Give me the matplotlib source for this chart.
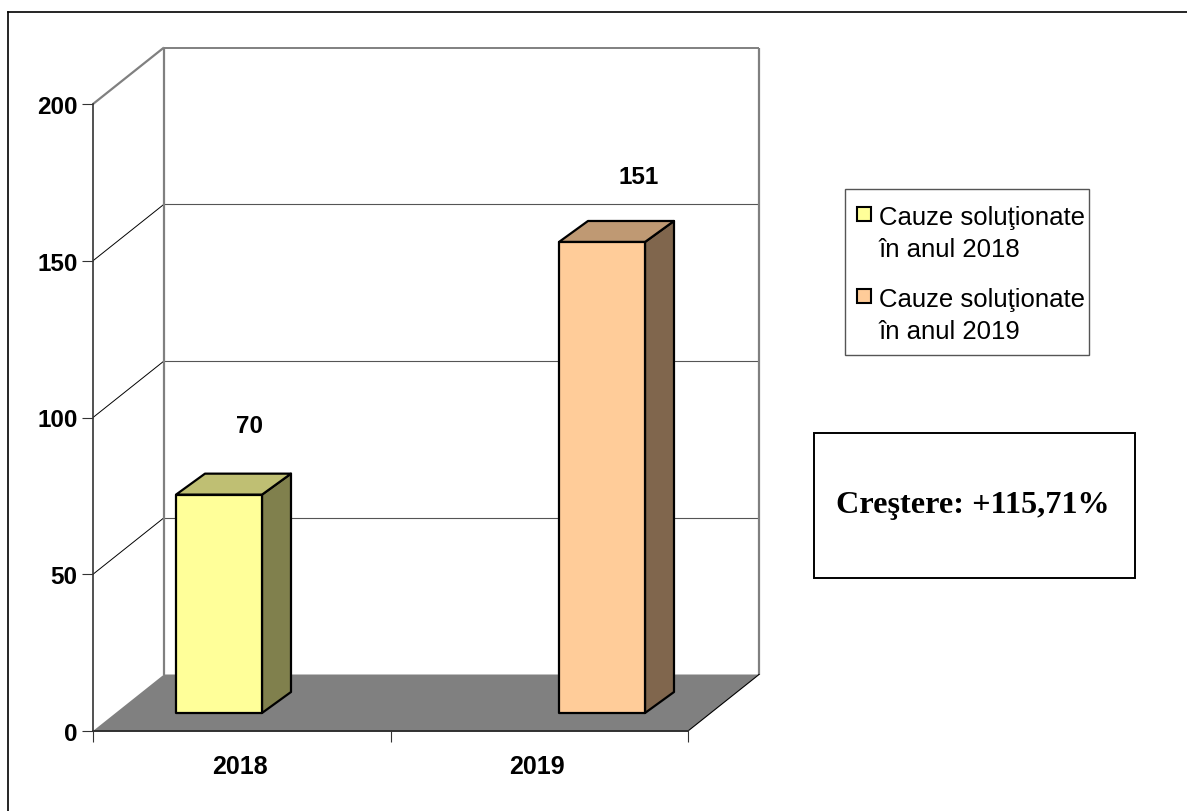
import matplotlib
matplotlib.use('Agg')
import matplotlib.pyplot as plt
from matplotlib.patches import Polygon, Rectangle

years = ['2018', '2019']
values = [70, 151]
y_ticks = [0, 50, 100, 150, 200]
bar_x = [0.4235, 1.7109]
front_colors = ['#FFFF99', '#FFCC99']
top_colors = ['#BFBF73', '#BF9973']
side_colors = ['#80804D', '#80664D']
legend_labels = ['Cauze soluţionate\nîn anul 2018', 'Cauze soluţionate\nîn anul 2019']
note = 'Creştere: +115,71%'

W, H = 1187, 812
GRAY = '#808080'


def fx(px):
    return px / W


def fy(py):
    return 1 - py / H


fig = plt.figure(figsize=(W / 100, H / 100), dpi=100)
plt.rcParams['font.family'] = ['Liberation Sans', 'DejaVu Sans']

# front plane of the 3d box is the real axes
x0, x1, y0, y200 = 93, 688, 732, 105
ax = fig.add_axes([fx(x0), fy(y0), fx(x1 - x0), (y0 - y200) / H])
ax.set_xlim(0, 2)
ax.set_ylim(0, 200)
ax.patch.set_alpha(0)
for s in ['top', 'right']:
    ax.spines[s].set_visible(False)
for s in ['left', 'bottom']:
    ax.spines[s].set_color('#333333')
    ax.spines[s].set_linewidth(1.2)

ux = (x1 - x0) / 2
uy = (y0 - y200) / 200
depth_x, depth_y = 71 / ux, 56.5 / uy


def wall(xa, ya, xb, yb, color, lw):
    ax.plot([xa, xb], [ya, yb], color=color, lw=lw, clip_on=False, zorder=1, solid_capstyle='butt')


# floor
ax.add_patch(Polygon([(0, 0), (depth_x, depth_y), (2 + depth_x, depth_y), (2, 0)],
                     closed=True, fc=GRAY, ec='none', clip_on=False, zorder=1))
ax.plot([2, 2 + depth_x], [0, depth_y], color='black', lw=0.8, clip_on=False, zorder=2)
ax.plot([0, 2], [0, 0], color='#222222', lw=1.2, clip_on=False, zorder=2)

# back wall, gridlines and the slanted ones on the side wall
for t in y_ticks[1:]:
    c = GRAY if t == 200 else 'black'
    wall(0, t, depth_x, t + depth_y, c, 1.6 if t == 200 else 0.7)
    wall(depth_x, t + depth_y, 2 + depth_x, t + depth_y, GRAY if t == 200 else '#555555', 1.4 if t == 200 else 0.8)
wall(depth_x, depth_y, depth_x, 200 + depth_y, GRAY, 1.6)
wall(2 + depth_x, depth_y, 2 + depth_x, 200 + depth_y, GRAY, 1.6)

# bars
bar_w = 86 / ux
base = 18 / uy
dx, dy = 29 / ux, 21 / uy
shrink = 0.995
label_off = [(31, 69), (37, 65)]
for xc, v, fc, tc, sc, off in zip(bar_x, values, front_colors, top_colors, side_colors, label_off):
    l, r = xc - bar_w / 2, xc + bar_w / 2
    b, t = base, base + v * shrink
    ec = dict(ec='black', lw=1.6, joinstyle='round', clip_on=False, zorder=4)
    ax.add_patch(Polygon([(r, b), (r + dx, b + dy), (r + dx, t + dy), (r, t)], fc=sc, **ec))
    ax.add_patch(Polygon([(l, t), (l + dx, t + dy), (r + dx, t + dy), (r, t)], fc=tc, **ec))
    ax.add_patch(Rectangle((l, b), bar_w, v * shrink, fc=fc, **ec))
    ax.annotate(str(v), (xc, t), xytext=off, textcoords='offset pixels', ha='center', va='center',
                fontsize=17.5, fontweight='bold', zorder=5)

ax.set_yticks(y_ticks)
ax.set_yticklabels([str(t) for t in y_ticks], fontsize=17.5, fontweight='bold')
ax.set_xticks([0, 1, 2])
ax.set_xticklabels(['', '', ''])
ax.tick_params(axis='both', length=8, width=0.8, color='#333333', pad=3)
for xc, lab in zip([0.5, 1.5], years):
    ax.annotate(lab, (xc, 0), xytext=(-2, -35), textcoords='offset pixels', ha='center', va='center',
                fontsize=18, fontweight='bold')

# legend box, drawn by hand as the swatch sits on the first of two lines
fig.add_artist(Rectangle((fx(845), fy(356)), fx(244), 166 / H, transform=fig.transFigure,
                         fc='white', ec='#555555', lw=1.0))
for c, lab, top, mid in zip(front_colors, legend_labels, [208, 290], [234, 316]):
    fig.add_artist(Rectangle((fx(857), fy(top + 14)), fx(14), 14 / H, transform=fig.transFigure,
                             fc=c, ec='black', lw=1.5))
    fig.text(fx(879), fy(mid), lab, fontsize=18.5, va='center', ha='left', linespacing=1.47)

# note box
fig.add_artist(Rectangle((fx(814), fy(579)), fx(321), 145.5 / H, transform=fig.transFigure,
                         fc='white', ec='black', lw=1.4))
fig.text(fx(972.5), fy(505), note, family='Liberation Serif', fontsize=23.2, fontweight='bold',
         ha='center', va='center')

# outer frame, only top and left show
fig.add_artist(plt.Line2D([fx(8), fx(8)], [fy(13), 0], color='black', lw=1.2))
fig.add_artist(plt.Line2D([fx(8), 1], [fy(13), fy(13)], color='black', lw=1.2))

fig.savefig('out.png', dpi=100)
